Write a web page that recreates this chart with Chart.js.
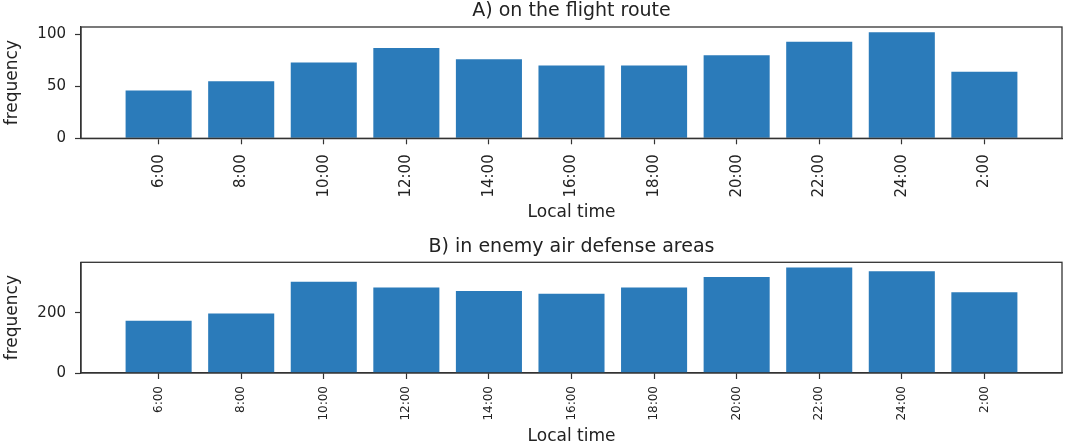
<!DOCTYPE html>
<html>
<head>
<meta charset="utf-8">
<script src="https://cdn.jsdelivr.net/npm/chart.js@4/dist/chart.umd.min.js"></script>
<style>
html,body{margin:0;padding:0;background:#fff;}
#wrap{position:relative;width:1069px;height:448px;overflow:hidden;}
canvas{position:absolute;left:0;}
</style>
</head>
<body>
<div id="wrap">
  <canvas id="cA" width="1069" height="224" style="top:0"></canvas>
  <canvas id="cB" width="1069" height="224" style="top:224px"></canvas>
</div>
<script>
// ---- data ----
const categories = ['6:00','8:00','10:00','12:00','14:00','16:00','18:00','20:00','22:00','24:00','2:00'];
const routeValues = [46, 55, 73, 87, 76, 70, 70, 80, 93, 102, 64];
const defenseValues = [174, 198, 304, 285, 273, 264, 285, 320, 351, 339, 269];
const routeYTicks = [0, 50, 100];
const defenseYTicks = [0, 200];
const titleA = 'A) on the flight route';
const titleB = 'B) in enemy air defense areas';
const xLabel = 'Local time';
const yLabel = 'frequency';

const FONT = "'DejaVu Sans', sans-serif";
const TEXT = '#222';
const LINE = '#333';
const BAR = '#2b7bba';

const framePlugin = {
  id: 'frame',
  afterDatasetsDraw(chart) {
    const {ctx, chartArea: a} = chart;
    ctx.save();
    ctx.strokeStyle = LINE;
    ctx.lineWidth = 1.3;
    ctx.strokeRect(a.left, a.top, a.right - a.left, a.bottom - a.top);
    ctx.restore();
  }
};

function makeChart(id, values, yTicks, title, cfg) {
  const n = categories.length;
  const span = (n - 1) + 0.8;
  const pad = 0.05 * span;
  const yMax = Math.max(...values) * 1.05;
  return new Chart(document.getElementById(id), {
    type: 'bar',
    data: {
      datasets: [{
        data: values.map((v, i) => ({x: i, y: v})),
        backgroundColor: BAR,
        borderWidth: 0,
        categoryPercentage: 0.8,
        barPercentage: 1
      }]
    },
    options: {
      responsive: false,
      animation: false,
      devicePixelRatio: 1,
      layout: {padding: {left: 0, right: 7, top: 0, bottom: 0}},
      plugins: {
        legend: {display: false},
        tooltip: {enabled: false},
        title: {
          display: true, text: title, color: TEXT, fullSize: false,
          font: {family: FONT, size: 19, lineHeight: 1, weight: 'normal'},
          padding: {top: cfg.titleTop, bottom: cfg.titleBottom}
        }
      },
      scales: {
        x: {
          type: 'linear', offset: false,
          min: -0.4 - pad, max: n - 1 + 0.4 + pad,
          afterBuildTicks: (s) => { s.ticks = categories.map((_, i) => ({value: i})); },
          afterFit: (s) => { s.height = cfg.xHeight; },
          grid: {offset: false, drawOnChartArea: false, drawTicks: true, tickLength: 6, tickColor: LINE, tickWidth: 1.2},
          border: {display: true, color: LINE, width: 1.3},
          ticks: {
            autoSkip: false, minRotation: 90, maxRotation: 90, padding: cfg.xPad,
            color: TEXT, font: {family: FONT, size: cfg.xFont},
            callback: (v) => categories[v]
          },
          title: {display: true, text: xLabel, color: TEXT,
            font: {family: FONT, size: 17, lineHeight: 1}, padding: {top: 0, bottom: 3}}
        },
        y: {
          type: 'linear', min: 0, max: yMax,
          afterBuildTicks: (s) => { s.ticks = yTicks.map(v => ({value: v})); },
          afterFit: (s) => { s.width = 81; },
          grid: {drawOnChartArea: false, drawTicks: true, tickLength: 6, tickColor: LINE, tickWidth: 1.2},
          border: {display: true, color: LINE, width: 1.3},
          ticks: {padding: 9, color: TEXT, font: {family: FONT, size: 15}},
          title: {display: true, text: yLabel, color: TEXT,
            font: {family: FONT, size: 17, lineHeight: 1}, padding: {top: 4, bottom: 0}}
        }
      }
    },
    plugins: [framePlugin]
  });
}

makeChart('cA', routeValues, routeYTicks, titleA,
  {titleTop: 1.2, titleBottom: 6.8, xHeight: 85.7, xPad: 10, xFont: 15});
makeChart('cB', defenseValues, defenseYTicks, titleB,
  {titleTop: 13.2, titleBottom: 6.1, xHeight: 75, xPad: 7, xFont: 12});
</script>
</body>
</html>
